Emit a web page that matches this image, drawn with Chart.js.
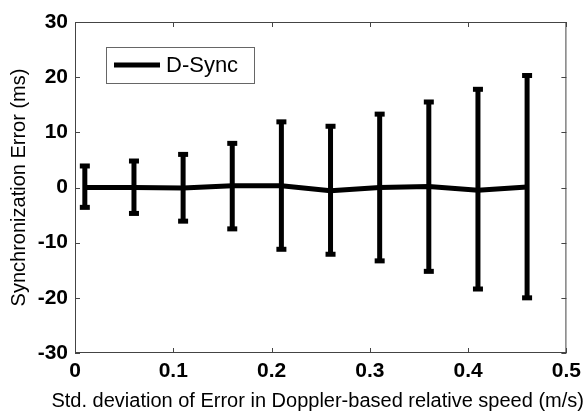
<!DOCTYPE html>
<html>
<head>
<meta charset="utf-8">
<script src="https://cdn.jsdelivr.net/npm/chart.js"></script>
<style>
  body { margin: 0; background: #fff; }
</style>
</head>
<body>
<canvas id="myChart" width="587" height="415"></canvas>
<script>
// std. deviation of speed error (m/s)
const xValues = [0.01, 0.06, 0.11, 0.16, 0.21, 0.26, 0.31, 0.36, 0.41, 0.46];
// mean sync error (ms)
const meanErr = [0.0, 0.0, -0.1, 0.3, 0.3, -0.6, 0.0, 0.2, -0.5, 0.1];
// top and bottom of each error bar (ms)
const upperVal = [3.9, 4.8, 6.0, 8.0, 11.9, 11.1, 13.3, 15.5, 17.8, 20.3];
const lowerVal = [-3.6, -4.7, -6.1, -7.5, -11.2, -12.1, -13.3, -15.2, -18.4, -20.0];
const seriesName = "D-Sync";
const xTitle = "Std. deviation of Error in Doppler-based relative speed (m/s)";
const yTitle = "Synchronization Error (ms)";

const FONT = "'Liberation Sans', Arial, Helvetica, sans-serif";

const points = xValues.map((x, i) => ({ x: x, y: meanErr[i] }));

// matlab style: box around the axes with ticks pointing inward
const axesBox = {
    id: "axesBox",
    beforeDatasetsDraw: (chart) => {
        const { ctx, chartArea: a, scales } = chart;
        ctx.save();
        ctx.strokeStyle = "#444";
        ctx.lineWidth = 1;
        ctx.strokeRect(a.left + 0.5, a.top + 0.5, a.right - a.left - 1, a.bottom - a.top - 1);
        ctx.beginPath();
        scales.x.ticks.forEach((t) => {
            const px = Math.round(scales.x.getPixelForValue(t.value)) + 0.5;
            ctx.moveTo(px, a.bottom);
            ctx.lineTo(px, a.bottom - 5);
            ctx.moveTo(px, a.top);
            ctx.lineTo(px, a.top + 5);
        });
        scales.y.ticks.forEach((t) => {
            const py = Math.round(scales.y.getPixelForValue(t.value)) + 0.5;
            ctx.moveTo(a.left, py);
            ctx.lineTo(a.left + 5, py);
            ctx.moveTo(a.right, py);
            ctx.lineTo(a.right - 5, py);
        });
        ctx.stroke();
        ctx.restore();
    },
    // x title is wider than the plot, chart.js would squeeze it
    afterDraw: (chart) => {
        const { ctx, chartArea: a } = chart;
        ctx.save();
        ctx.fillStyle = "#000";
        ctx.font = "20px " + FONT;
        ctx.textAlign = "center";
        ctx.textBaseline = "middle";
        ctx.fillText(xTitle, (a.left + a.right) / 2 - 3, 401);
        ctx.restore();
    },
};

const errorBars = {
    id: "errorBars",
    afterDatasetsDraw: (chart) => {
        const { ctx, scales } = chart;
        ctx.save();
        ctx.fillStyle = "#000";
        ctx.strokeStyle = "#000";
        ctx.lineWidth = 5;
        xValues.forEach((x, i) => {
            const px = scales.x.getPixelForValue(x);
            const top = scales.y.getPixelForValue(upperVal[i]);
            const bot = scales.y.getPixelForValue(lowerVal[i]);
            ctx.beginPath();
            ctx.moveTo(px, top);
            ctx.lineTo(px, bot);
            ctx.stroke();
            ctx.fillRect(px - 5, top - 2.5, 10, 5);
            ctx.fillRect(px - 5, bot - 2.5, 10, 5);
        });
        ctx.restore();
    },
};

const legendBox = {
    id: "legendBox",
    afterDraw: (chart) => {
        const { ctx, chartArea: a } = chart;
        const x0 = a.left + 31;
        const y0 = a.top + 25;
        ctx.save();
        ctx.fillStyle = "#fff";
        ctx.fillRect(x0, y0, 148, 36);
        ctx.strokeStyle = "#666";
        ctx.lineWidth = 1;
        ctx.strokeRect(x0 + 0.5, y0 + 0.5, 148, 36);
        ctx.strokeStyle = "#000";
        ctx.lineWidth = 5;
        ctx.beginPath();
        ctx.moveTo(x0 + 8, y0 + 18);
        ctx.lineTo(x0 + 54, y0 + 18);
        ctx.stroke();
        ctx.fillStyle = "#000";
        ctx.font = "22px " + FONT;
        ctx.textBaseline = "middle";
        ctx.fillText(chart.data.datasets[0].label, x0 + 60, y0 + 19);
        ctx.restore();
    },
};

new Chart(document.getElementById("myChart"), {
    type: "scatter",
    data: {
        datasets: [
            {
                label: seriesName,
                data: points,
                showLine: true,
                borderColor: "#000",
                borderWidth: 5,
                pointRadius: 0,
                tension: 0,
            },
        ],
    },
    options: {
        responsive: false,
        animation: false,
        layout: { padding: { top: 22, right: 17, left: 0, bottom: 0 } },
        plugins: {
            legend: { display: false },
            tooltip: { enabled: false },
        },
        scales: {
            x: {
                type: "linear",
                min: 0,
                max: 0.5,
                border: { display: false },
                grid: { display: false, drawTicks: false },
                ticks: {
                    stepSize: 0.1,
                    padding: 6,
                    color: "#000",
                    maxRotation: 0,
                    font: { family: FONT, size: 21, weight: "bold" },
                    callback: (v) => (Math.round(v * 10) / 10).toString(),
                },
                afterFit: (scale) => { scale.height = 62; },
            },
            y: {
                min: -30,
                max: 30,
                border: { display: false },
                grid: { display: false, drawTicks: false },
                ticks: {
                    stepSize: 10,
                    padding: 7,
                    color: "#000",
                    font: { family: FONT, size: 21, weight: "bold" },
                },
                title: {
                    display: true,
                    text: yTitle,
                    color: "#000",
                    font: { family: FONT, size: 20 },
                    padding: { top: 7, bottom: 0 },
                },
                afterFit: (scale) => { scale.width = 75; },
            },
        },
    },
    plugins: [axesBox, errorBars, legendBox],
});
</script>
</body>
</html>
